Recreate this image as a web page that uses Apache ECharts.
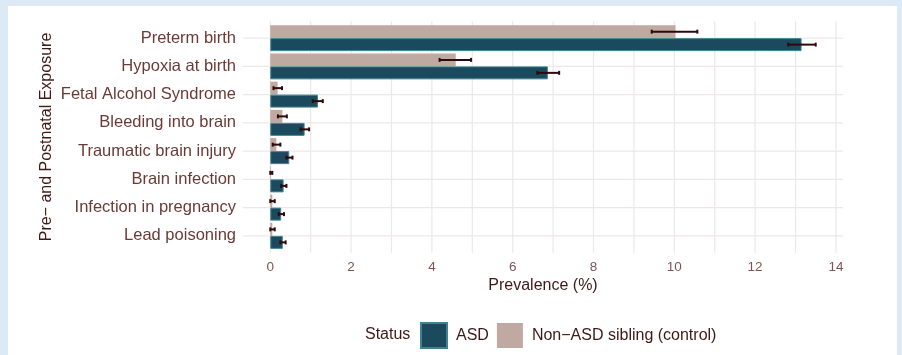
<!DOCTYPE html>
<html>
<head>
<meta charset="utf-8">
<title>Pre- and Postnatal Exposure prevalence</title>
<script src="https://cdn.jsdelivr.net/npm/echarts/dist/echarts.min.js"></script>
<style>
  html, body { margin: 0; padding: 0; background: #dce9f6; }
  #chart { width: 902px; height: 355px; }
</style>
</head>
<body>
<div id="chart"></div>
<script>
// Exposures, top to bottom
const categories = [
  'Preterm birth',
  'Hypoxia at birth',
  'Fetal Alcohol Syndrome',
  'Bleeding into brain',
  'Traumatic brain injury',
  'Brain infection',
  'Infection in pregnancy',
  'Lead poisoning'
];

// Prevalence (%) with confidence limits, ASD group
const asdValues = [13.15, 6.87, 1.18, 0.85, 0.47, 0.33, 0.27, 0.31];
const asdLow    = [12.82, 6.61, 1.05, 0.75, 0.40, 0.27, 0.21, 0.25];
const asdHigh   = [13.50, 7.15, 1.30, 0.96, 0.55, 0.40, 0.34, 0.38];

// Prevalence (%) with confidence limits, non-ASD siblings
const controlValues = [10.03, 4.59, 0.18, 0.30, 0.15, 0.02, 0.05, 0.05];
const controlLow    = [ 9.44, 4.19, 0.08, 0.19, 0.06, 0.00, 0.00, 0.00];
const controlHigh   = [10.57, 4.97, 0.29, 0.41, 0.25, 0.05, 0.11, 0.11];

// Axis ticks
const xTickLabels = [0, 2, 4, 6, 8, 10, 12, 14];
const xGridValues = [0, 1, 2, 3, 4, 5, 6, 7, 8, 9, 10, 11, 12, 13, 14];

const seriesNames = ['ASD', 'Non\u2212ASD sibling (control)'];

const FONT = "'Liberation Sans', Arial, Helvetica, sans-serif";
const LABEL_COLOR = '#6b3a36';
const TITLE_COLOR = '#3e1916';
const TICK_COLOR = '#7b5753';
const GRID_COLOR = '#ece8e7';
const ERR_COLOR = '#2e0a0a';
const ASD_FILL = '#1b4a5e';
const ASD_EDGE = '#3f8290';
const CTRL_FILL = '#bfa9a1';

// x range padded by 5% of the data span, as the plot panel does
const dataMax = Math.max(...asdHigh, ...controlHigh);
const pad = 0.05 * dataMax;
const xMin = -pad;
const xMax = dataMax + pad;

const chart = echarts.init(document.getElementById('chart'), null, { renderer: 'canvas' });

// bar slot offset inside one category band (two dodged bars)
const CAT_GAP = 0.08;
const halfSlot = (1 - CAT_GAP) / 4;

function errorBarRenderer(side) {
  return function (params, api) {
    const band = api.size([0, 1])[1];
    const y = api.coord([0, api.value(1)])[1] + side * halfSlot * band;
    const x0 = api.coord([api.value(0), api.value(1)])[0];
    const x1 = api.coord([api.value(2), api.value(1)])[0];
    const cap = band * 0.07;
    const style = { stroke: ERR_COLOR, lineWidth: 2 };
    return {
      type: 'group',
      children: [
        { type: 'line', shape: { x1: x0, y1: y, x2: x1, y2: y }, style },
        { type: 'line', shape: { x1: x0, y1: y - cap, x2: x0, y2: y + cap }, style },
        { type: 'line', shape: { x1: x1, y1: y - cap, x2: x1, y2: y + cap }, style }
      ]
    };
  };
}

const option = {
  backgroundColor: '#dce9f6',
  animation: false,
  textStyle: { fontFamily: FONT },
  graphic: [
    {
      type: 'rect',
      z: -100,
      silent: true,
      shape: { x: 8, y: 6, width: 889, height: 360 },
      style: { fill: '#ffffff' }
    },
    {
      type: 'text',
      left: 365,
      top: 327,
      style: {
        text: 'Status',
        fill: TITLE_COLOR,
        font: '16px ' + FONT
      }
    }
  ],
  legend: {
    data: seriesNames,
    left: 420,
    top: 322,
    padding: 0,
    icon: 'rect',
    itemWidth: 26,
    itemHeight: 25,
    itemGap: 8,
    selectedMode: false,
    textStyle: {
      color: TITLE_COLOR,
      fontSize: 16,
      fontFamily: FONT,
      padding: [0, 0, 0, 4]
    }
  },
  grid: {
    left: 243,
    right: 59,
    top: 24,
    height: 226,
    containLabel: false
  },
  xAxis: {
    type: 'value',
    min: xMin,
    max: xMax,
    name: 'Prevalence (%)',
    nameLocation: 'middle',
    nameGap: 28,
    nameMoveOverlap: false,
    nameTextStyle: { color: TITLE_COLOR, fontSize: 16, fontFamily: FONT },
    axisLine: { show: false },
    axisTick: { show: false },
    splitLine: { show: false },
    axisLabel: {
      customValues: xTickLabels,
      color: TICK_COLOR,
      fontSize: 13.5,
      fontFamily: FONT,
      margin: 10
    }
  },
  yAxis: {
    type: 'category',
    data: categories,
    inverse: true,
    name: 'Pre\u2212 and Postnatal Exposure',
    nameLocation: 'middle',
    nameGap: 188,
    nameMoveOverlap: false,
    nameTextStyle: { color: TITLE_COLOR, fontSize: 16, fontFamily: FONT },
    axisLine: { show: false },
    axisTick: { show: false },
    splitLine: { show: false },
    axisLabel: {
      color: LABEL_COLOR,
      fontSize: 16.5,
      fontFamily: FONT,
      margin: 7
    }
  },
  series: [
    // vertical grid lines at every unit
    {
      type: 'custom',
      silent: true,
      z: 1,
      encode: { x: 0, y: 1 },
      data: xGridValues.map(v => [v, 0]),
      renderItem: function (params, api) {
        const cs = params.coordSys;
        const band = api.size([0, 1])[1];
        const x = api.coord([api.value(0), 0])[0];
        const ext = band * 0.1;
        return {
          type: 'line',
          shape: { x1: x, y1: cs.y - ext, x2: x, y2: cs.y + cs.height + ext },
          style: { stroke: GRID_COLOR, lineWidth: 1.2 }
        };
      }
    },
    // horizontal grid lines through each category
    {
      type: 'custom',
      silent: true,
      z: 1,
      encode: { x: 0, y: 1 },
      data: categories.map((c, i) => [0, i]),
      renderItem: function (params, api) {
        const cs = params.coordSys;
        const y = api.coord([0, api.value(1)])[1];
        return {
          type: 'line',
          shape: { x1: cs.x, y1: y, x2: cs.x + cs.width, y2: y },
          style: { stroke: GRID_COLOR, lineWidth: 1.2 }
        };
      }
    },
    {
      name: seriesNames[1],
      type: 'bar',
      z: 3,
      barGap: '0%',
      barCategoryGap: (CAT_GAP * 100) + '%',
      itemStyle: { color: CTRL_FILL },
      data: controlValues
    },
    {
      name: seriesNames[0],
      type: 'bar',
      z: 3,
      barGap: '0%',
      barCategoryGap: (CAT_GAP * 100) + '%',
      itemStyle: { color: ASD_FILL, borderColor: ASD_EDGE, borderWidth: 1 },
      data: asdValues
    },
    {
      type: 'custom',
      z: 5,
      silent: true,
      encode: { x: [0, 2], y: 1 },
      data: categories.map((c, i) => [controlLow[i], i, controlHigh[i]]),
      renderItem: errorBarRenderer(-1)
    },
    {
      type: 'custom',
      z: 5,
      silent: true,
      encode: { x: [0, 2], y: 1 },
      data: categories.map((c, i) => [asdLow[i], i, asdHigh[i]]),
      renderItem: errorBarRenderer(1)
    }
  ]
};

chart.setOption(option);
</script>
</body>
</html>
